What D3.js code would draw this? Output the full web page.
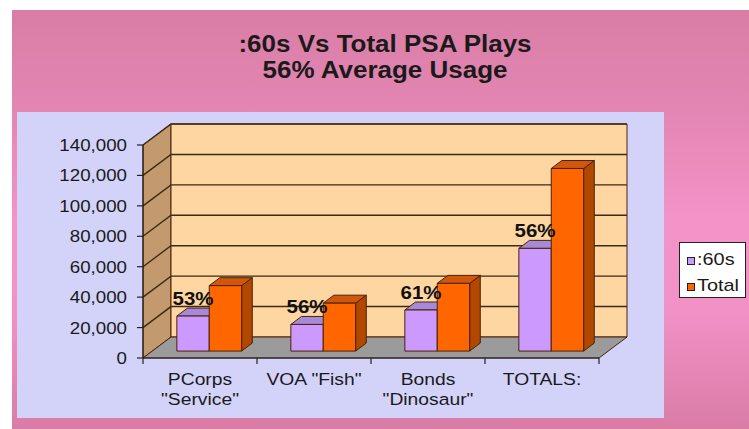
<!DOCTYPE html>
<html>
<head>
<meta charset="utf-8">
<script src="https://cdn.jsdelivr.net/npm/d3@7"></script>
<style>
  html, body { margin: 0; padding: 0; background: #fff; }
  svg { display: block; }
  text { font-family: "Liberation Sans", Arial, sans-serif; fill: #1a1a1a; }
</style>
</head>
<body>
<svg id="chart" width="749" height="429"></svg>
<script>
// ---- data ----
const titleLines = [":60s Vs Total PSA Plays", "56% Average Usage"];
const categories = ['PCorps\n"Service"', 'VOA "Fish"', 'Bonds\n"Dinosaur"', 'TOTALS:'];
const seriesNames = [":60s", "Total"];
const sixties = [23000, 17500, 27000, 67500];
const totals = [43000, 31500, 44500, 120000];
const yTicks = [0, 20000, 40000, 60000, 80000, 100000, 120000, 140000];

// ---- styling / layout ----
const W = 749, H = 429;
const SX = 1.17;                 // horizontal text stretch
const frontLeft = 143, frontRight = 599, frontBase = 358, frontTop = 145;
const DEPTH_X = 28, DEPTH_Y = 21; // oblique depth of the plot box
const barZ0 = 0.33, barZ1 = 0.71; // bar depth range (fraction of box depth)
const colors = {
  s60: { front: "#cc99ff", top: "#a68ad8", side: "#8a66c0" },
  tot: { front: "#ff6600", top: "#d0580c", side: "#b24700" },
  edge: "#4a2208"
};

const svg = d3.select("#chart");

// background
const defs = svg.append("defs");
const bg = defs.append("linearGradient").attr("id", "bg").attr("x1", 0).attr("y1", 0).attr("x2", 0).attr("y2", 1);
[[0, "#d97da5"], [0.25, "#e486b4"], [0.5, "#f393c8"], [0.72, "#f291c6"], [1, "#d97ca6"]]
  .forEach(([o, c]) => bg.append("stop").attr("offset", o).attr("stop-color", c));

svg.append("rect").attr("width", W).attr("height", H).attr("fill", "#ffffff");
svg.append("rect").attr("x", 12).attr("y", 10).attr("width", W - 12).attr("height", H - 10).attr("fill", "url(#bg)");

// inner plot panel
svg.append("rect").attr("x", 17).attr("y", 112).attr("width", 647).attr("height", 306).attr("fill", "#d3d3f9");

// helper for stretched text
function label(parent, x, y, str, opts) {
  const g = parent.append("g").attr("transform", `translate(${x},${y}) scale(${opts.sx || SX},1)`);
  const t = g.append("text").text(str)
    .attr("text-anchor", opts.anchor || "middle")
    .style("font-size", opts.size + "px")
    .style("font-weight", opts.weight || "normal");
  return t;
}

// title
titleLines.forEach((s, i) => label(svg, 385, 52 + i * 26, s, { size: 23, weight: "bold", sx: 1.13 }));

// scales
const x = d3.scaleBand().domain(d3.range(categories.length)).range([frontLeft, frontRight]);
const y = d3.scaleLinear().domain([0, 140000]).range([frontBase, frontTop]);
const inner = d3.scaleBand().domain([0, 1]).range([0, x.bandwidth()]).paddingInner(0).paddingOuter(0.76);

const vmax = d3.max(yTicks);
// projection of (px, value, depth) onto the page
const P = (px, v, z) => [px + z * DEPTH_X, y(v) - z * DEPTH_Y];
const poly = pts => pts.map(p => p.join(",")).join(" ");

const box = svg.append("g");
// left wall
box.append("polygon")
  .attr("points", poly([P(frontLeft, 0, 0), P(frontLeft, vmax, 0), P(frontLeft, vmax, 1), P(frontLeft, 0, 1)]))
  .attr("fill", "#c39a6d").attr("stroke", colors.edge).attr("stroke-width", 1);
// back wall
box.append("polygon")
  .attr("points", poly([P(frontLeft, 0, 1), P(frontLeft, vmax, 1), P(frontRight, vmax, 1), P(frontRight, 0, 1)]))
  .attr("fill", "#fdd6a2").attr("stroke", colors.edge).attr("stroke-width", 1);
// floor
box.append("polygon")
  .attr("points", poly([P(frontLeft, 0, 0), P(frontRight, 0, 0), P(frontRight, 0, 1), P(frontLeft, 0, 1)]))
  .attr("fill", "#9b9b9b").attr("stroke", colors.edge).attr("stroke-width", 1);

// gridlines on walls
yTicks.filter(v => v > 0).forEach(v => {
  box.append("polyline")
    .attr("points", poly([P(frontLeft, v, 0), P(frontLeft, v, 1), P(frontRight, v, 1)]))
    .attr("fill", "none").attr("stroke", "#3d2a14").attr("stroke-width", 1.4);
});

// bars
const bars = svg.append("g");
function drawBar(px, w, v, c) {
  const z0 = barZ0, z1 = barZ1;
  // right side
  bars.append("polygon")
    .attr("points", poly([P(px + w, 0, z0), P(px + w, v, z0), P(px + w, v, z1), P(px + w, 0, z1)]))
    .attr("fill", c.side).attr("stroke", colors.edge).attr("stroke-width", 1);
  // top
  bars.append("polygon")
    .attr("points", poly([P(px, v, z0), P(px + w, v, z0), P(px + w, v, z1), P(px, v, z1)]))
    .attr("fill", c.top).attr("stroke", colors.edge).attr("stroke-width", 1);
  // front
  bars.append("polygon")
    .attr("points", poly([P(px, 0, z0), P(px, v, z0), P(px + w, v, z0), P(px + w, 0, z0)]))
    .attr("fill", c.front).attr("stroke", colors.edge).attr("stroke-width", 1);
}
categories.forEach((cat, i) => {
  const bx = x(i);
  drawBar(bx + inner(0), inner.bandwidth(), sixties[i], colors.s60);
  drawBar(bx + inner(1), inner.bandwidth(), totals[i], colors.tot);
});

// percentage labels over the :60s bars
categories.forEach((cat, i) => {
  const pct = Math.round(sixties[i] / totals[i] * 100) + "%";
  const [lx, ly] = P(x(i) + inner(0) + inner.bandwidth() / 2, sixties[i], barZ0);
  label(svg, lx, ly - 11, pct, { size: 17.5, weight: "bold" }).style("fill", "#111");
});

// axes
const axisColor = "#222";
const ax = svg.append("g");
ax.append("line").attr("x1", frontLeft).attr("x2", frontLeft).attr("y1", y(vmax)).attr("y2", y(0))
  .attr("stroke", axisColor).attr("stroke-width", 1.2);
ax.append("line").attr("x1", frontLeft).attr("x2", frontRight).attr("y1", y(0)).attr("y2", y(0))
  .attr("stroke", axisColor).attr("stroke-width", 1.2);
const fmt = d3.format(",");
yTicks.forEach(v => {
  ax.append("line").attr("x1", frontLeft - 6).attr("x2", frontLeft).attr("y1", y(v)).attr("y2", y(v))
    .attr("stroke", axisColor).attr("stroke-width", 1.2);
  label(ax, frontLeft - 16, y(v) + 6, fmt(v), { size: 16, anchor: "end" });
});
d3.range(categories.length + 1).forEach(i => {
  const tx = frontLeft + i * x.step();
  ax.append("line").attr("x1", tx).attr("x2", tx).attr("y1", y(0)).attr("y2", y(0) + 6)
    .attr("stroke", axisColor).attr("stroke-width", 1.2);
});
categories.forEach((cat, i) => {
  const cx = x(i) + x.bandwidth() / 2;
  cat.split("\n").forEach((line, j) => label(ax, cx, 385 + j * 20, line, { size: 16.5 }));
});

// legend
const lg = svg.append("g");
lg.append("rect").attr("x", 679.5).attr("y", 242.5).attr("width", 66).attr("height", 55)
  .attr("fill", "#ffffff").attr("stroke", "#222").attr("stroke-width", 1);
[colors.s60, colors.tot].forEach((c, i) => {
  const by = 265 + i * 26;
  lg.append("rect").attr("x", 687.5).attr("y", by - 7.5).attr("width", 7).attr("height", 7)
    .attr("fill", c.front).attr("stroke", "#222").attr("stroke-width", 1);
  label(lg, 697, by, seriesNames[i], { size: 17, anchor: "start" });
});
</script>
</body>
</html>
